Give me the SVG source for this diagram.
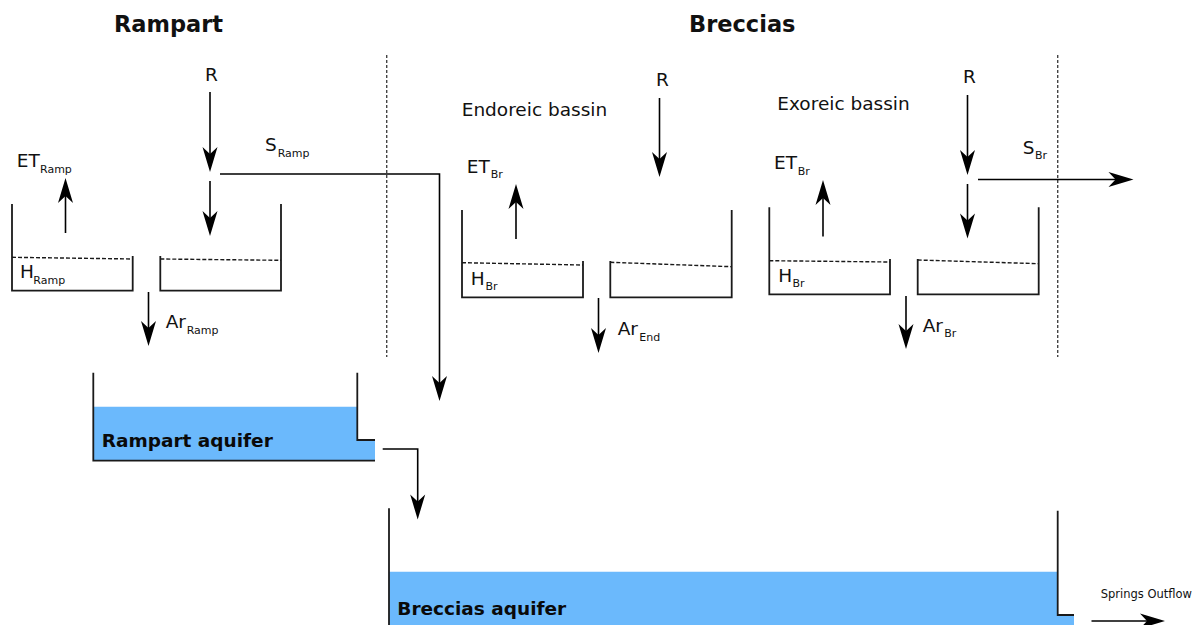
<svg xmlns="http://www.w3.org/2000/svg" width="1197" height="625" viewBox="0 0 1197 625">
<style>
text{font-family:"DejaVu Sans","Liberation Sans",sans-serif;fill:#111}
.title{font-size:22.5px;font-weight:bold}
.lbl{font-size:18.5px}
.sub{font-size:11px}
.aq{font-size:18.5px;font-weight:bold;fill:#0a0a0a}
.small{font-size:11.5px}
.wall{fill:none;stroke:#1a1a1a;stroke-width:1.8}
.level{fill:none;stroke:#1a1a1a;stroke-width:1.4;stroke-dasharray:4 2}
.sep{fill:none;stroke:#444;stroke-width:1.4;stroke-dasharray:3 2}
.arr{fill:none;stroke:#000;stroke-width:1.6;marker-end:url(#ah)}
.water{fill:#6bb9fc}
</style>
<defs>
<marker id="ah" markerUnits="userSpaceOnUse" viewBox="-16 -8 27 16" markerWidth="27" markerHeight="16" refX="0" refY="0" orient="auto">
<path d="M10,0 L-15,-7.5 L-8,0 L-15,7.5 Z" fill="#000"/>
</marker>
</defs>
<rect width="1197" height="625" fill="#fff"/>

<g id="titles">
<text class="title" x="114" y="32">Rampart</text>
<text class="title" x="689" y="32">Breccias</text>
</g>

<g id="separators">
<line class="sep" x1="386.7" y1="55" x2="386.7" y2="357"/>
<line class="sep" x1="1057.7" y1="55" x2="1057.7" y2="357"/>
</g>

<g id="rampart-soil">
<path class="wall" d="M12,204 V290.7 H132.7 V256"/>
<path class="level" d="M12,257.3 L132.7,259"/>
<path class="wall" d="M160.3,256 V290.7 H281 V204"/>
<path class="level" d="M160.3,259 L281,260.3"/>
<text class="lbl" x="20" y="277.5">H<tspan class="sub" x="33.3" y="284">Ramp</tspan></text>
</g>

<g id="endoreic-soil">
<path class="wall" d="M462,210 V297.3 H583 V261"/>
<path class="level" d="M462,262.7 L583,265"/>
<path class="wall" d="M610.3,261 V297.3 H731.7 V210"/>
<path class="level" d="M610.3,262.3 L731.7,266.7"/>
<text class="lbl" x="470.7" y="285">H<tspan class="sub" x="485.5" y="290">Br</tspan></text>
<text class="lbl" x="461.7" y="116">Endoreic bassin</text>
</g>

<g id="exoreic-soil">
<path class="wall" d="M769.3,207.3 V294.3 H890 V259"/>
<path class="level" d="M769.3,260.7 L890,262"/>
<path class="wall" d="M917.7,259 V294.3 H1038.7 V207.3"/>
<path class="level" d="M917.7,260 L1038.7,263.7"/>
<text class="lbl" x="778.3" y="281.7">H<tspan class="sub" x="792.5" y="287.3">Br</tspan></text>
<text class="lbl" x="777.3" y="110">Exoreic bassin</text>
</g>

<g id="rampart-aquifer">
<path class="water" d="M93.3,406.7 H357.3 V440 H375 V460.7 H93.3 Z"/>
<path class="wall" d="M93.3,372.7 V460.7 H375"/>
<path class="wall" d="M357.3,372.7 V440 H375"/>
<text class="aq" x="101.7" y="447.3">Rampart aquifer</text>
</g>

<g id="breccias-aquifer">
<path class="water" d="M389,571.7 H1057.7 V615 H1074 V625 H389 Z"/>
<path class="wall" d="M389,508.3 V625"/>
<path class="wall" d="M1057.7,510.7 V615 H1074"/>
<text class="aq" x="397.3" y="615">Breccias aquifer</text>
</g>

<g id="connectors">
<path class="arr" d="M210,92 V162"/>
<path class="arr" d="M210,181 V226"/>
<path class="arr" d="M65.5,233 V188"/>
<path class="arr" d="M148.5,292 V336"/>
<path class="arr" d="M220,174 H439.5 V391"/>
<path class="arr" d="M659.5,98 V167"/>
<path class="arr" d="M516,239 V194"/>
<path class="arr" d="M598.5,298 V343"/>
<path class="arr" d="M967.5,95 V165"/>
<path class="arr" d="M967.5,184 V228.5"/>
<path class="arr" d="M978,179.5 H1123.5"/>
<path class="arr" d="M823,236.5 V190"/>
<path class="arr" d="M906,296 V339"/>
<path class="arr" d="M382.7,449 H417.7 V509.5"/>
<path class="arr" d="M1091.5,621 H1155"/>
</g>

<g id="flux-labels">
<text class="lbl" x="205" y="81">R</text>
<text class="lbl" x="16.7" y="167.3">ET<tspan class="sub" x="40" y="172.7">Ramp</tspan></text>
<text class="lbl" x="265" y="150.7">S<tspan class="sub" x="277.7" y="156.7">Ramp</tspan></text>
<text class="lbl" x="165.7" y="328.3">Ar<tspan class="sub" x="186.7" y="334">Ramp</tspan></text>
<text class="lbl" x="656" y="85.7">R</text>
<text class="lbl" x="466.7" y="172.7">ET<tspan class="sub" x="490.7" y="178.3">Br</tspan></text>
<text class="lbl" x="617.7" y="335.3">Ar<tspan class="sub" x="639.3" y="341">End</tspan></text>
<text class="lbl" x="963" y="82.7">R</text>
<text class="lbl" x="1022.7" y="154">S<tspan class="sub" x="1035" y="159.3">Br</tspan></text>
<text class="lbl" x="774" y="169.3">ET<tspan class="sub" x="797.7" y="175">Br</tspan></text>
<text class="lbl" x="922.7" y="331.7">Ar<tspan class="sub" x="944.3" y="336.7">Br</tspan></text>
<text class="small" x="1100.7" y="598.3">Springs Outflow</text>
</g>
</svg>
